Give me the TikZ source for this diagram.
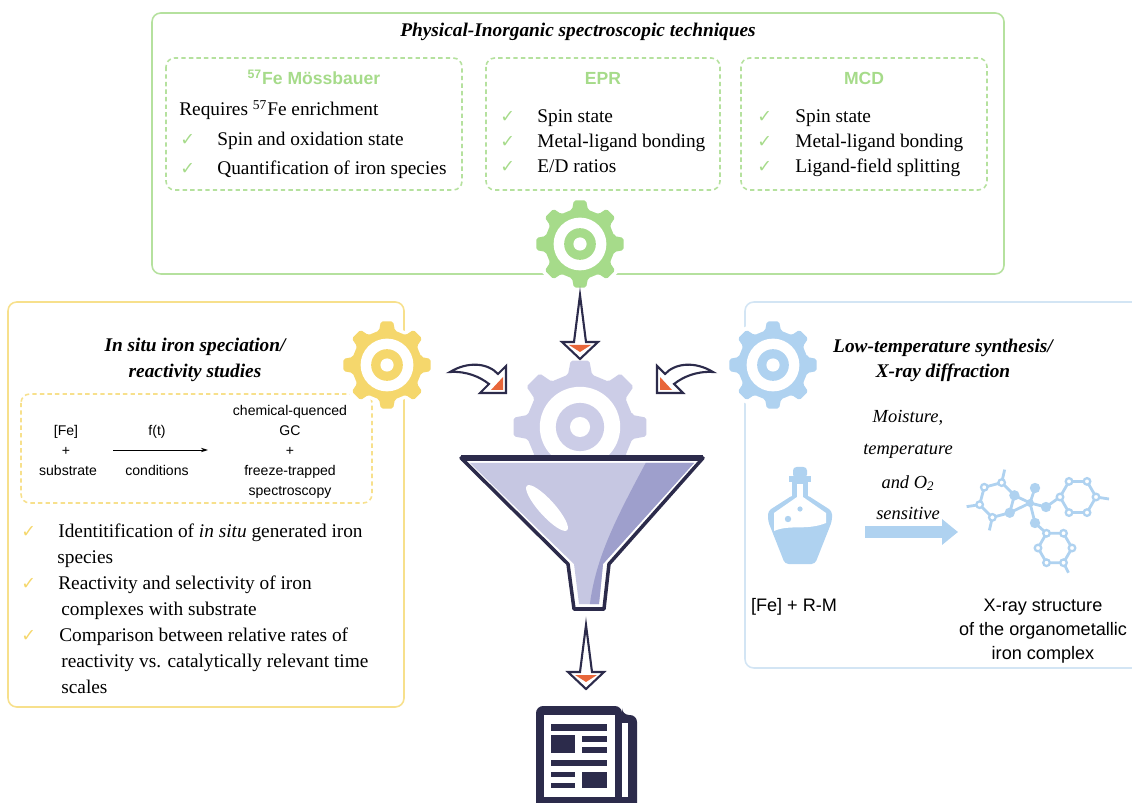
\documentclass[tikz,border=0pt]{standalone}
\usepackage{fontspec}
\setmainfont{Liberation Serif}
\setsansfont{Liberation Sans}
\newfontfamily\symfont{DejaVu Sans}
\usetikzlibrary{arrows.meta}

\definecolor{grnline}{HTML}{B5E19E}
\definecolor{grn}{HTML}{A6DB8A}
\definecolor{ylwline}{HTML}{F7E08C}
\definecolor{ylw}{HTML}{F5D76C}
\definecolor{bluline}{HTML}{D3E5F4}
\definecolor{blu}{HTML}{AFD2F0}
\definecolor{lav}{HTML}{CCCDE7}
\definecolor{lavdark}{HTML}{9E9FCC}
\definecolor{funnelfill}{HTML}{C6C7E2}
\definecolor{navy}{HTML}{2C2B4B}
\definecolor{orng}{HTML}{E8663A}

% cog with eight teeth and a ring in the middle
% #1 centre, #2 outer radius, #3 colour
\newcommand{\cog}[3]{%
  \begin{scope}[shift={#1}]
    \filldraw[white, line width=4pt, line join=round]
      (-13:#2*0.8) \foreach \a in {0,45,...,315}
        { -- (\a-13:#2*0.8) -- (\a-8:#2) -- (\a+8:#2) -- (\a+13:#2*0.8) } -- cycle;
    \fill[#3, rounded corners=1pt]
      (-13:#2*0.8) \foreach \a in {0,45,...,315}
        { -- (\a-13:#2*0.8) -- (\a-8:#2) -- (\a+8:#2) -- (\a+13:#2*0.8) } -- cycle;
    \fill[white] (0,0) circle (#2*0.6);
    \fill[#3]    (0,0) circle (#2*0.36);
    \fill[white] (0,0) circle (#2*0.15);
  \end{scope}}

% outlined arrow pointing down, #1 = top point
\newcommand{\droparrow}[1]{%
  \begin{scope}[shift={#1}]
    \filldraw[fill=white, draw=navy, line width=1.2pt]
      (0,0) -- (6,47) -- (18,47) -- (0,64) -- (-18,47) -- (-6,47) -- cycle;
    \fill[orng] (-11,50) -- (11,50) -- (0,57) -- cycle;
  \end{scope}}

% curved arrow into the funnel (left one)
\newcommand{\bendarrow}{%
  \filldraw[fill=white, draw=navy, line width=1.2pt]
    (450,372) .. controls (468,361) and (488,363) .. (498,374)
    -- (506,366) -- (506,393) -- (480,393) -- (489,384)
    .. controls (480,377) and (467,371) .. (450,372) -- cycle;
  \fill[orng] (503,377) -- (503,390) -- (491,390) -- cycle;}

\begin{document}
\begin{tikzpicture}[x=0.02cm, y=-0.02cm,
    bigbox/.style={rounded corners=5pt, line width=0.9pt},
    dashbox/.style={rounded corners=5pt, line width=0.9pt, dash pattern=on 2.5pt off 1.8pt},
    head/.style={font=\bfseries\itshape\fontsize{11}{13}\selectfont, anchor=base, inner sep=0},
    body/.style={font=\fontsize{11}{13}\selectfont, anchor=base west, inner sep=0},
    tick/.style={font=\symfont\fontsize{10}{11}\selectfont, anchor=base west, inner sep=0},
    techname/.style={font=\sffamily\bfseries\fontsize{10}{12}\selectfont, text=grn, anchor=base, inner sep=0},
    rxn/.style={font=\sffamily\fontsize{8}{10}\selectfont, anchor=base, inner sep=0},
    lbl/.style={font=\sffamily\fontsize{10.3}{12}\selectfont, anchor=base, inner sep=0},
    cond/.style={font=\itshape\fontsize{10.5}{12}\selectfont, anchor=base, inner sep=0},
    atom/.style={fill=white, draw=blu, line width=1.3pt},
  ]
  \useasboundingbox (0,0) rectangle (1132,803);
  \clip (0,0) rectangle (1132,803);

  % the three panels
  \draw[grnline, bigbox] (152,13) rectangle (1004,274);
  \draw[ylwline, bigbox] (8,302) rectangle (404,707);
  \draw[bluline, bigbox] (745,302) rectangle (1150,668);

  \draw[grnline, dashbox] (166,58) rectangle (462,190);
  \draw[grnline, dashbox] (486,58) rectangle (720,190);
  \draw[grnline, dashbox] (741,58) rectangle (987,190);
  \draw[ylwline, dashbox] (21,394) rectangle (372,503);

  % gears
  \cog{(580,244)}{44}{grn}
  \cog{(387,365)}{44}{ylw}
  \cog{(773,365)}{44}{blu}
  \cog{(580,427)}{67}{lav}

  % funnel
  \filldraw[fill=white, draw=navy, line width=2pt, line join=round]
    (461,458) -- (703,458) -- (609,564) -- (604,609) -- (574,609) -- (568,564) -- cycle;
  \begin{scope}
    \clip (470,463) -- (694,463) -- (603,564) -- (599,604) -- (579,604) -- (574,564) -- cycle;
    \fill[funnelfill] (460,455) rectangle (710,612);
    \fill[lavdark] (650,455) .. controls (615,520) and (594,560) .. (589,612)
      -- (710,612) -- (710,455) -- cycle;
  \end{scope}
  \fill[white, rotate around={-48:(547,508)}] (547,508) ellipse [x radius=30, y radius=8];
  \draw[navy, line width=3pt] (461,458) -- (703,458);

  % arrows into and out of the funnel
  \droparrow{(580,295)}
  \droparrow{(586,625)}
  \bendarrow
  \begin{scope}[shift={(1163,0)}, xscale=-1]
    \bendarrow
  \end{scope}

  % newspaper
  \fill[navy, rounded corners=4pt]
    (536,706) -- (622,706) -- (622,715) -- (637,715) -- (637,810) -- (536,810) -- cycle;
  \fill[white] (544,715) rectangle (615,797);
  \fill[white] (622,723) rectangle (628,797);
  \fill[navy] (551,724) rectangle (607,731);
  \fill[navy] (551,735) rectangle (575,753);
  \fill[navy] (582,736) rectangle (607,742);
  \fill[navy] (582,747) rectangle (607,753);
  \fill[navy] (551,760) rectangle (607,766);
  \fill[navy] (551,772) rectangle (575,777);
  \fill[navy] (551,783) rectangle (575,788);
  \fill[navy] (582,772) rectangle (607,788);

  % top panel text
  \node[head] (phys) at (578,37) {Physical-Inorganic spectroscopic techniques};

  \node[techname] (moss) at (314,85) {\textsuperscript{57}Fe Mössbauer};
  \node[body] (moss0) at (179,116) {Requires \textsuperscript{57}Fe enrichment};
  \node[tick, text=grn] (mossc1) at (180,146) {✓};
  \node[body] (moss1) at (217,146) {Spin and oxidation state};
  \node[tick, text=grn] (mossc2) at (180,175) {✓};
  \node[body] (moss2) at (217,175) {Quantification of iron species};

  \node[techname] (epr) at (603,85) {EPR};
  \node[tick, text=grn] (eprc1) at (500,123) {✓};
  \node[body] (epr1) at (537,123) {Spin state};
  \node[tick, text=grn] (eprc2) at (500,148) {✓};
  \node[body] (epr2) at (537,148) {Metal-ligand bonding};
  \node[tick, text=grn] (eprc3) at (500,173) {✓};
  \node[body] (epr3) at (537,173) {E/D ratios};

  \node[techname] (mcd) at (864,85) {MCD};
  \node[tick, text=grn] (mcdc1) at (757,123) {✓};
  \node[body] (mcd1) at (795,123) {Spin state};
  \node[tick, text=grn] (mcdc2) at (757,148) {✓};
  \node[body] (mcd2) at (795,148) {Metal-ligand bonding};
  \node[tick, text=grn] (mcdc3) at (757,173) {✓};
  \node[body] (mcd3) at (795,173) {Ligand-field splitting};

  % left panel text
  \node[head] (insitu1) at (195,352) {In situ iron speciation/};
  \node[head] (insitu2) at (195,378) {reactivity studies};

  \node[rxn] (fe)    at (66,436)  {[Fe]};
  \node[rxn] (plus1) at (66,456)  {+};
  \node[rxn] (sub)   at (68,476)  {substrate};
  \node[rxn] (ft)    at (157,436) {f(t)};
  \node[rxn] (condn) at (157,476) {conditions};
  \node[rxn] (quench) at (290,416) {chemical-quenced};
  \node[rxn] (gc)     at (290,436) {GC};
  \node[rxn] (plus2)  at (290,456) {+};
  \node[rxn] (freeze) at (290,476) {freeze-trapped};
  \node[rxn] (spec)   at (290,496) {spectroscopy};
  \coordinate (rxnA) at (113,450);
  \coordinate (rxnB) at (208,450);
  \draw[line width=0.5pt, -{Stealth[length=4pt, width=2.5pt]}] (rxnA) -- (rxnB);

  \node[tick, text=ylw] (yc1) at (21,537) {✓};
  \node[body] (y1) at (58,537) {Identitification of \textit{in situ} generated iron};
  \node[body] (y2) at (57,563) {species};
  \node[tick, text=ylw] (yc2) at (21,589) {✓};
  \node[body] (y3) at (58,589) {Reactivity and selectivity of iron};
  \node[body] (y4) at (61,615) {complexes with substrate};
  \node[tick, text=ylw] (yc3) at (21,641) {✓};
  \node[body] (y5) at (59,641) {Comparison between relative rates of};
  \node[body] (y6) at (61,667) {reactivity vs. catalytically relevant time};
  \node[body] (y7) at (61,693) {scales};

  % right panel text
  \node[head] (lowt1) at (943,353) {Low-temperature synthesis/};
  \node[head] (lowt2) at (943,378) {X-ray diffraction};
  \node[cond] (cond1) at (908,423) {Moisture,};
  \node[cond] (cond2) at (908,455) {temperature};
  \node[cond] (cond3) at (908,488) {and O\textsubscript{2}};
  \node[cond] (cond4) at (908,520) {sensitive};
  \node[lbl] (femr) at (794,611) {[Fe] + R-M};
  \node[lbl] (xray1) at (1043,611) {X-ray structure};
  \node[lbl] (xray2) at (1043,635) {of the organometallic};
  \node[lbl] (xray3) at (1043,659) {iron complex};

  % flask
  \fill[blu, rounded corners=2pt] (793,467) rectangle (807,478);
  \fill[blu] (789,476) rectangle (811,482);
  \fill[blu] (792,482) rectangle (808,496);
  \fill[blu, rounded corners=2pt]
    (793,495) -- (768,511) -- (768,521) -- (785,564) -- (815,564) -- (832,521) -- (832,511) -- (807,495) -- cycle;
  \fill[white] (797,484) rectangle (803,497);
  \fill[white] (797,497) -- (774,513) -- (774,531)
    .. controls (790,524) and (806,531) .. (826,523) -- (826,513) -- (803,497) -- cycle;
  \fill[blu] (788,519) circle (3.2);
  \fill[blu] (800,509) circle (2.6);

  % reaction arrow
  \coordinate (synA) at (865,532);
  \coordinate (synB) at (958,532);
  \draw[blu, line width=6.5pt, -{Triangle[length=9pt, width=14pt]}] (synA) -- (synB);

  % molecule
  \coordinate (M) at (1030,503);
  \foreach \a [count=\i] in {-15,45,105,165,225,285}
    \path (997,500) ++(\a:18) coordinate (L\i);
  \foreach \a [count=\i] in {0,60,120,180,240,300}
    \path (1078,497) ++(\a:18) coordinate (R\i);
  \foreach \a [count=\i] in {0,60,120,180,240,300}
    \path (1055,548) ++(\a:17) coordinate (B\i);
  \coordinate (top) at (1035,488);
  \coordinate (rgt) at (1046,507);
  \coordinate (dwn) at (1035,523);
  \begin{scope}[blu, line width=1.6pt]
    \draw (L1) -- (L2) -- (L3) -- (L4) -- (L5) -- (L6) -- cycle;
    \draw (R1) -- (R2) -- (R3) -- (R4) -- (R5) -- (R6) -- cycle;
    \draw (B1) -- (B2) -- (B3) -- (B4) -- (B5) -- (B6) -- cycle;
    \draw (M) -- (L1);
    \draw (M) -- (L2);
    \draw (M) -- (top);
    \draw (M) -- (rgt) -- (R4);
    \draw (M) -- (dwn) -- (B5);
    \draw (L6) -- ++(3,-13);
    \draw (L4) -- ++(-13,2);
    \draw (L3) -- ++(-3,13);
    \draw (R1) -- ++(13,2);
    \draw (B2) -- ++(5,10);
    \fill (M) circle (4);
    \foreach \p in {L1,L2,top,rgt,dwn}
      \fill (\p) circle (5.2);
  \end{scope}
  \foreach \p in {L3,L4,L5,L6,R1,R2,R3,R4,R5,R6,B1,B2,B3,B4,B5,B6}
    \filldraw[atom] (\p) circle (3.3);

\end{tikzpicture}
\end{document}
